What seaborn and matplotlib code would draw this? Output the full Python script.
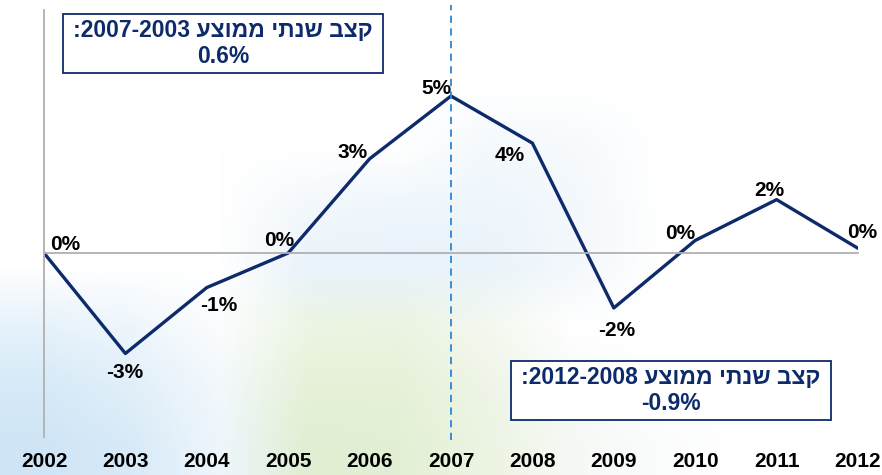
import matplotlib
matplotlib.use("Agg")
import matplotlib.pyplot as plt
from matplotlib.patches import Rectangle
from matplotlib.colors import to_rgb
import seaborn as sns
import pandas as pd
import numpy as np

# DATA
years = [2002, 2003, 2004, 2005, 2006, 2007, 2008, 2009, 2010, 2011, 2012]
growth = [0.0, -3.2, -1.1, 0.0, 3.0, 5.0, 3.5, -1.75, 0.4, 1.7, 0.15]
point_labels = ["0%", "-3%", "-1%", "0%", "3%", "5%", "4%", "-2%", "0%", "2%", "0%"]
split_year = 2007
# Hebrew written in visual order (matplotlib has no bidi)
box_left = ":2007-2003 עצוממ יתנש בצק\n0.6%"
box_right = ":2012-2008 עצוממ יתנש בצק\n-0.9%"

# label offsets in pixels (dx, dy)
offsets = [(21, 9), (-1, -19), (12, -18), (-9, 13), (-17, 6), (-15, 8),
           (-23, -12), (3, -23), (-15, 7), (-7, 9), (4, 16)]

NAVY = "#0d2a6b"

sns.set_style("white")
plt.rcParams["font.family"] = ["Liberation Sans", "DejaVu Sans"]

df = pd.DataFrame({"year": years, "growth": growth})

fig = plt.figure(figsize=(8.82, 4.75), dpi=100)

# faint washed-out background picture (blue / green tints)
W = "#ffffff"
bg_rows = [
    [W, W, W, W, W, W, W, W, W, W],
    [W, W, W, W, W, W, W, W, W, W],
    [W, W, W, W, W, "#f4f9fd", "#f6fafd", W, W, W],
    [W, W, W, "#f3f8fc", "#eef6fc", "#eef6fc", "#f3f8fc", W, W, W],
    [W, W, W, "#e9f3fb", "#e9f3fb", "#eaf3fa", "#f3f8fc", W, W, W],
    ["#e6f2fb", "#eef6fc", "#fbfdfe", "#edf5e3", "#ecf4e2", "#f3f8ee", W, W, W, W],
    ["#d6eaf8", "#e1eff9", "#f3f8fc", "#e6f1d8", "#e6f1d8", "#eef5e6", "#f7faf8", W, W, W],
    ["#cfe5f6", "#d8eaf8", "#eef6fc", "#e1eed2", "#e3efd5", "#ecf4e2", "#f5f9f5", "#fbfcfc", W, W],
]
bg = np.array([[to_rgb(c) for c in row] for row in bg_rows])
bg_ax = fig.add_axes([0, 0, 1, 1], zorder=-1)
bg_ax.imshow(bg, aspect="auto", interpolation="bilinear", extent=[0, 1, 0, 1])
bg_ax.axis("off")

ax = fig.add_axes([44 / 882, 1 - 437 / 475, (858 - 44) / 882, 427 / 475])
ax.patch.set_alpha(0)

sns.lineplot(data=df, x="year", y="growth", color=NAVY, linewidth=2.4, ax=ax)

ax.set_xlim(years[0], years[-1])
ax.set_ylim(-5.86, 7.74)

# zero line acts as x axis
ax.spines["top"].set_visible(False)
ax.spines["right"].set_visible(False)
ax.spines["bottom"].set_position(("data", 0))
ax.spines["bottom"].set_color("#b0b0b0")
ax.spines["bottom"].set_linewidth(1.3)
ax.spines["left"].set_color("#b0b0b0")
ax.spines["left"].set_linewidth(1.3)
ax.set_xticks(years)
ax.tick_params(axis="x", direction="out", length=5, width=1.2, color="#b0b0b0",
               labelbottom=False)
ax.set_yticks([])
ax.set_xlabel("")
ax.set_ylabel("")

for yr in years:
    ax.text(yr, -0.058, str(yr), transform=ax.get_xaxis_transform(),
            ha="center", va="center", fontsize=15, fontweight="bold", color="black")

ax.axvline(split_year, ymin=-0.008, ymax=1.012, color="#2a86d6", linewidth=1.3,
           linestyle=(0, (4, 3)), clip_on=False)

for yr, val, lab, (dx, dy) in zip(years, growth, point_labels, offsets):
    ax.annotate(lab, (yr, val), xytext=(dx, dy), textcoords="offset pixels",
                ha="center", va="center", fontsize=15, fontweight="bold", color="black")

# average-rate boxes (pixel geometry of the reference)
for (x0, y0, x1, y1), txt in [((63, 14, 383, 73), box_left), ((511, 361, 831, 420), box_right)]:
    fig.patches.append(Rectangle((x0 / 882, 1 - y1 / 475), (x1 - x0) / 882, (y1 - y0) / 475,
                                 transform=fig.transFigure, facecolor="white",
                                 edgecolor=NAVY, linewidth=1.3, zorder=3))
    fig.text((x0 + x1) / 2 / 882, 1 - (y0 + y1) / 2 / 475, txt, ha="center", va="center",
             multialignment="center", fontsize=16.5, fontweight="bold", color=NAVY,
             linespacing=1.15, zorder=4)

plt.savefig("out.png", dpi=100)
